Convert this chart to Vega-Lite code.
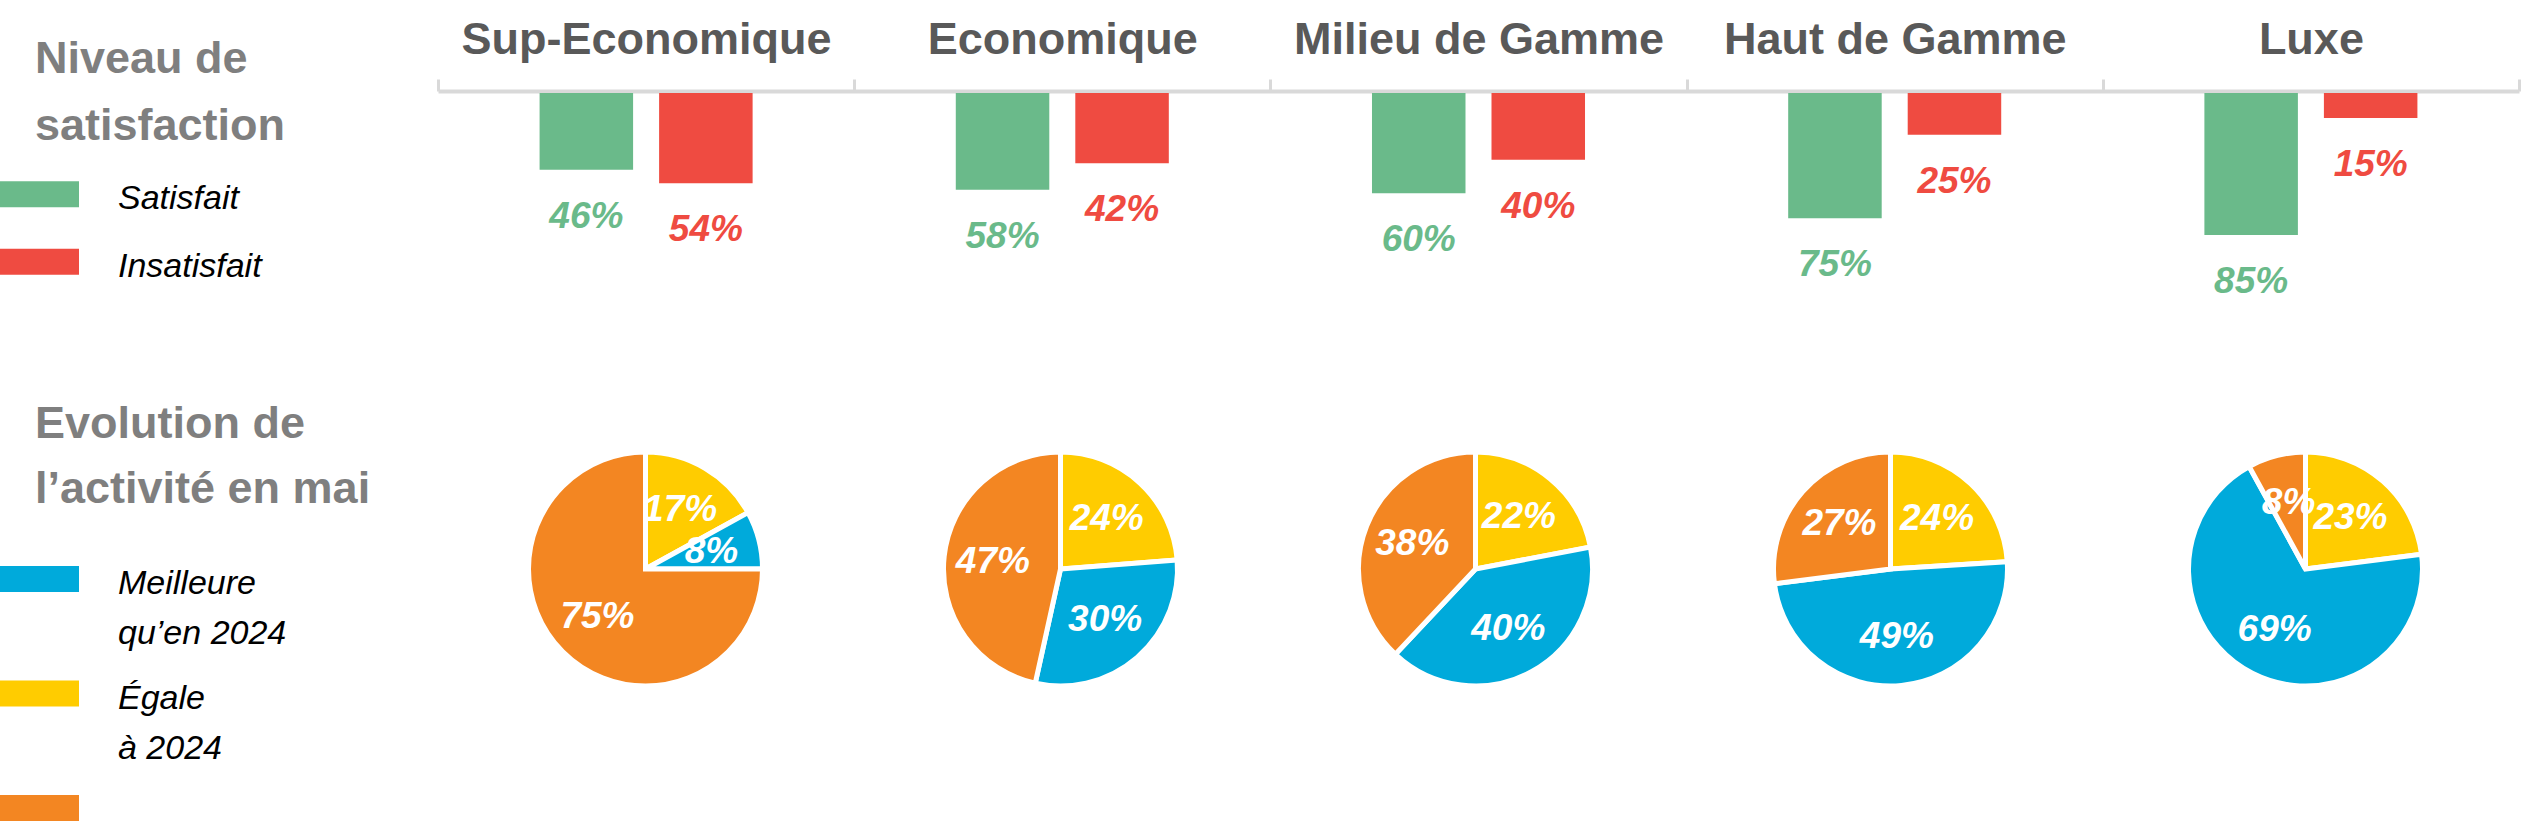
{
  "$schema": "https://vega.github.io/schema/vega-lite/v6.json",
  "padding": {"left": 0, "top": 17, "right": 0, "bottom": 0},
  "background": "white",
  "config": {"view": {"stroke": null}, "font": "Liberation Sans"},
  "datasets": {
    "leg1": [
      {"item": "Satisfait", "label": "Satisfait"},
      {"item": "Insatisfait", "label": "Insatisfait"}
    ],
    "leg2": [
      {"item": "Meilleure", "label": "Meilleure\nqu’en 2024"},
      {"item": "Égale", "label": "Égale\nà 2024"},
      {"item": "Moins bonne", "label": ""}
    ],
    "satisfaction": [
      {"cat": "Sup-Economique", "type": "Satisfait", "value": 0.46},
      {"cat": "Sup-Economique", "type": "Insatisfait", "value": 0.54},
      {"cat": "Economique", "type": "Satisfait", "value": 0.58},
      {"cat": "Economique", "type": "Insatisfait", "value": 0.42},
      {"cat": "Milieu de Gamme", "type": "Satisfait", "value": 0.60},
      {"cat": "Milieu de Gamme", "type": "Insatisfait", "value": 0.40},
      {"cat": "Haut de Gamme", "type": "Satisfait", "value": 0.75},
      {"cat": "Haut de Gamme", "type": "Insatisfait", "value": 0.25},
      {"cat": "Luxe", "type": "Satisfait", "value": 0.85},
      {"cat": "Luxe", "type": "Insatisfait", "value": 0.15}
    ],
    "evolution": [
      {"cat": "Sup-Economique", "evo": "Égale", "rang": 1, "share": 0.17},
      {"cat": "Sup-Economique", "evo": "Meilleure", "rang": 2, "share": 0.08},
      {"cat": "Sup-Economique", "evo": "Moins bonne", "rang": 3, "share": 0.75},
      {"cat": "Economique", "evo": "Égale", "rang": 1, "share": 0.24},
      {"cat": "Economique", "evo": "Meilleure", "rang": 2, "share": 0.30},
      {"cat": "Economique", "evo": "Moins bonne", "rang": 3, "share": 0.47},
      {"cat": "Milieu de Gamme", "evo": "Égale", "rang": 1, "share": 0.22},
      {"cat": "Milieu de Gamme", "evo": "Meilleure", "rang": 2, "share": 0.40},
      {"cat": "Milieu de Gamme", "evo": "Moins bonne", "rang": 3, "share": 0.38},
      {"cat": "Haut de Gamme", "evo": "Égale", "rang": 1, "share": 0.24},
      {"cat": "Haut de Gamme", "evo": "Meilleure", "rang": 2, "share": 0.49},
      {"cat": "Haut de Gamme", "evo": "Moins bonne", "rang": 3, "share": 0.27},
      {"cat": "Luxe", "evo": "Égale", "rang": 1, "share": 0.23},
      {"cat": "Luxe", "evo": "Meilleure", "rang": 2, "share": 0.69},
      {"cat": "Luxe", "evo": "Moins bonne", "rang": 3, "share": 0.08}
    ]
  },
  "resolve": {"scale": {"color": "independent"}},
  "bounds": "flush",
  "columns": 2,
  "spacing": {"row": 86, "column": 359},
  "concat": [
    {
      "width": 79,
      "height": 270,
      "data": {"name": "leg1"},
      "title": {
        "text": ["Niveau de", "satisfaction"],
        "anchor": "start", "dx": 35, "offset": -92, "baseline": "alphabetic",
        "lineHeight": 67, "fontSize": 45, "fontWeight": "bold",
        "color": "#7f7f7f", "font": "Liberation Sans"
      },
      "encoding": {
        "y": {"field": "item", "type": "nominal", "sort": null, "axis": null,
              "scale": {"paddingInner": 0, "paddingOuter": 1.177}}
      },
      "layer": [
        {
          "mark": {"type": "bar", "height": 26},
          "encoding": {
            "color": {"field": "item", "type": "nominal", "legend": null,
                      "scale": {"domain": ["Satisfait", "Insatisfait"], "range": ["#6aba8a", "#ef4b41"]}}
          }
        },
        {
          "mark": {"type": "text", "align": "left", "baseline": "alphabetic", "dx": 78.5, "dy": 15,
                   "fontSize": 34, "fontStyle": "italic", "font": "Liberation Sans",
                   "lineBreak": "\n", "lineHeight": 50, "color": "black"},
          "encoding": {"text": {"field": "label"}}
        }
      ]
    },
    {
      "width": 2081,
      "height": 167,
      "data": {"name": "satisfaction"},
      "encoding": {
        "x": {
          "field": "cat", "type": "nominal", "sort": null, "title": null,
          "scale": {"paddingInner": 0, "paddingOuter": 0},
          "axis": {
            "orient": "top", "offset": 2, "labelAngle": 0, "labelLimit": 0,
            "domainColor": "#d9d9d9", "domainWidth": 4,
            "tickColor": "#d9d9d9", "tickWidth": 3, "tickSize": 12, "tickBand": "extent",
            "labelFont": "Liberation Sans", "labelFontSize": 45, "labelFontWeight": "bold",
            "labelColor": "#595959", "labelPadding": 26, "labelBaseline": "alphabetic"
          }
        },
        "xOffset": {"field": "type", "sort": ["Satisfait", "Insatisfait"],
                    "scale": {"paddingInner": 0.2176, "paddingOuter": 0.85}},
        "y": {"field": "value", "type": "quantitative", "axis": null,
              "scale": {"domain": [0, 1], "reverse": true}},
        "color": {"field": "type", "type": "nominal", "legend": null,
                  "scale": {"domain": ["Satisfait", "Insatisfait"], "range": ["#6aba8a", "#ef4b41"]}}
      },
      "layer": [
        {"mark": {"type": "bar"}},
        {
          "mark": {"type": "text", "baseline": "alphabetic", "dy": 58, "fontSize": 37,
                   "fontWeight": "bold", "fontStyle": "italic", "font": "Liberation Sans"},
          "encoding": {"text": {"field": "value", "type": "quantitative", "format": ".0%"}}
        }
      ]
    },
    {
      "width": 79,
      "height": 489,
      "data": {"name": "leg2"},
      "title": {
        "text": ["Evolution de", "l’activité en mai"],
        "anchor": "start", "dx": 35, "offset": -99, "baseline": "alphabetic",
        "lineHeight": 65, "fontSize": 45, "fontWeight": "bold",
        "color": "#7f7f7f", "font": "Liberation Sans"
      },
      "encoding": {
        "y": {"field": "item", "type": "nominal", "sort": null, "axis": null,
              "scale": {"paddingInner": 0, "paddingOuter": 0.635}}
      },
      "layer": [
        {
          "mark": {"type": "bar", "height": 26},
          "encoding": {
            "color": {"field": "item", "type": "nominal", "legend": null,
                      "scale": {"domain": ["Meilleure", "Égale", "Moins bonne"], "range": ["#00aadb", "#ffcc00", "#f38622"]}}
          }
        },
        {
          "mark": {"type": "text", "align": "left", "baseline": "alphabetic", "dx": 78.5, "dy": 15,
                   "fontSize": 34, "fontStyle": "italic", "font": "Liberation Sans",
                   "lineBreak": "\n", "lineHeight": 50, "color": "black"},
          "encoding": {"text": {"field": "label"}}
        }
      ]
    },
    {
      "data": {"name": "evolution"},
      "spacing": 0,
      "facet": {
        "column": {"field": "cat", "type": "nominal", "header": null,
                   "sort": ["Sup-Economique", "Economique", "Milieu de Gamme", "Haut de Gamme", "Luxe"]}
      },
      "spec": {
        "width": 415,
        "height": 240,
        "encoding": {
          "theta": {"field": "share", "type": "quantitative", "stack": "normalize"},
          "order": {"field": "rang", "type": "quantitative"}
        },
        "layer": [
          {
            "mark": {"type": "arc", "radius": 117, "stroke": "white", "strokeWidth": 5},
            "encoding": {
              "color": {"field": "evo", "type": "nominal", "legend": null,
                        "scale": {"domain": ["Meilleure", "Égale", "Moins bonne"], "range": ["#00aadb", "#ffcc00", "#f38622"]}}
            }
          },
          {
            "mark": {"type": "text", "radius": 68, "fontSize": 37, "fontWeight": "bold", "fontStyle": "italic",
                     "font": "Liberation Sans", "color": "white"},
            "encoding": {"text": {"field": "share", "type": "quantitative", "format": ".0%"}}
          }
        ]
      }
    }
  ]
}
